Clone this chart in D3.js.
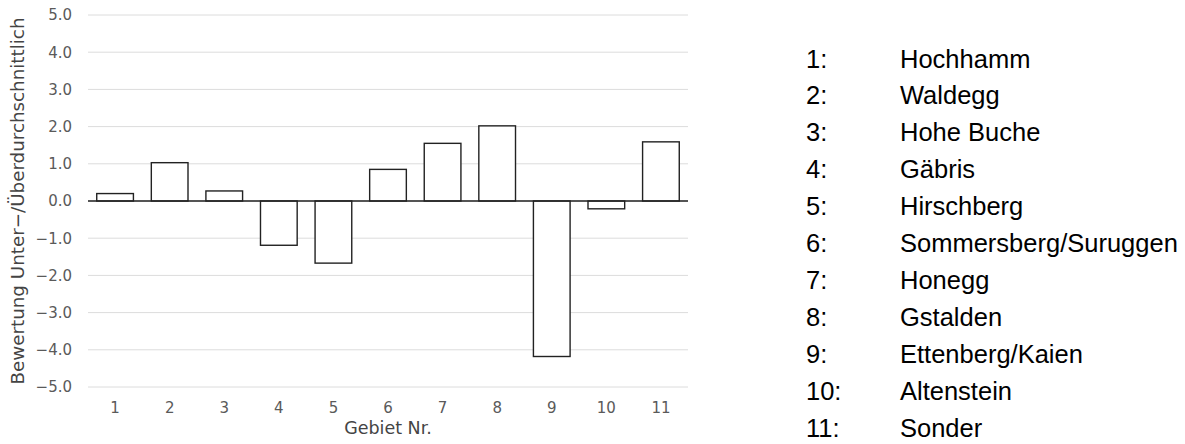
<!DOCTYPE html>
<html>
<head>
<meta charset="utf-8">
<script src="https://cdn.jsdelivr.net/npm/d3@7"></script>
<style>
  html, body { margin: 0; padding: 0; background: #fff; }
  svg { display: block; }
</style>
</head>
<body>
<svg id="chart" width="1185" height="444"></svg>
<script>
const gebiete = ["1", "2", "3", "4", "5", "6", "7", "8", "9", "10", "11"];
const werte = [0.20, 1.03, 0.27, -1.19, -1.67, 0.85, 1.55, 2.02, -4.18, -0.21, 1.59];
const namen = ["Hochhamm", "Waldegg", "Hohe Buche", "Gäbris", "Hirschberg",
  "Sommersberg/Suruggen", "Honegg", "Gstalden", "Ettenberg/Kaien", "Altenstein", "Sonder"];
const yTicks = [-5, -4, -3, -2, -1, 0, 1, 2, 3, 4, 5];
const yTitel = "Bewertung Unter−/Überdurchschnittlich";
const xTitel = "Gebiet Nr.";

const svg = d3.select("#chart");
const plotLeft = 88, plotRight = 688;

const x = d3.scaleBand().domain(gebiete).range([plotLeft, plotRight])
  .paddingInner(0.328).paddingOuter(0.16);
const y = d3.scaleLinear().domain([-5, 5]).range([387, 15]);

const tickFont = "'DejaVu Sans', sans-serif";

// gridlines
svg.append("g").selectAll("line").data(yTicks).join("line")
  .attr("x1", plotLeft).attr("x2", plotRight)
  .attr("y1", d => y(d)).attr("y2", d => y(d))
  .attr("stroke", "#dcdcdc").attr("stroke-width", 1);

// y axis labels
const yAxis = d3.axisLeft(y).tickValues(yTicks).tickFormat(d3.format(".1f")).tickSize(0).tickPadding(0);
const gy = svg.append("g").attr("transform", "translate(72,0)").call(yAxis);
gy.select(".domain").remove();
gy.selectAll("text").attr("font-family", tickFont).attr("font-size", 15)
  .attr("fill", "#5a5a5a");

// x axis labels
const xAxis = d3.axisBottom(x).tickSize(0).tickPadding(0);
const gx = svg.append("g").attr("transform", "translate(0,402)").call(xAxis);
gx.select(".domain").remove();
gx.selectAll("text").attr("font-family", tickFont).attr("font-size", 15)
  .attr("fill", "#5a5a5a");

// bars
svg.append("g").selectAll("rect").data(werte).join("rect")
  .attr("x", (d, i) => x(gebiete[i]))
  .attr("width", x.bandwidth())
  .attr("y", d => y(Math.max(0, d)))
  .attr("height", d => Math.abs(y(d) - y(0)))
  .attr("fill", "#fff").attr("stroke", "#222").attr("stroke-width", 1.4);

// zero line
svg.append("line")
  .attr("x1", plotLeft).attr("x2", plotRight)
  .attr("y1", y(0)).attr("y2", y(0))
  .attr("stroke", "#222").attr("stroke-width", 1.4);

// axis titles
svg.append("text")
  .attr("x", (plotLeft + plotRight) / 2).attr("y", 434)
  .attr("text-anchor", "middle")
  .attr("font-family", tickFont).attr("font-size", 17.5)
  .attr("fill", "#444")
  .text(xTitel);

svg.append("text")
  .attr("transform", `translate(24,${y(0)}) rotate(-90)`)
  .attr("text-anchor", "middle")
  .attr("font-family", tickFont).attr("font-size", 18.3)
  .attr("fill", "#444")
  .text(yTitel);

// legend
const legend = svg.append("g");
const legendY = d3.scalePoint().domain(gebiete).range([58.5, 427.5]);
const legFont = "'Liberation Sans', Arial, sans-serif";
legend.selectAll("text.nr").data(gebiete).join("text")
  .attr("class", "nr")
  .attr("x", 806).attr("y", d => legendY(d) + 9)
  .attr("font-family", legFont).attr("font-size", 25.5).attr("fill", "#000")
  .text(d => d + ":");
legend.selectAll("text.nm").data(namen).join("text")
  .attr("class", "nm")
  .attr("x", 900).attr("y", (d, i) => legendY(gebiete[i]) + 9)
  .attr("font-family", legFont).attr("font-size", 25.5).attr("fill", "#000")
  .text(d => d);
</script>
</body>
</html>
